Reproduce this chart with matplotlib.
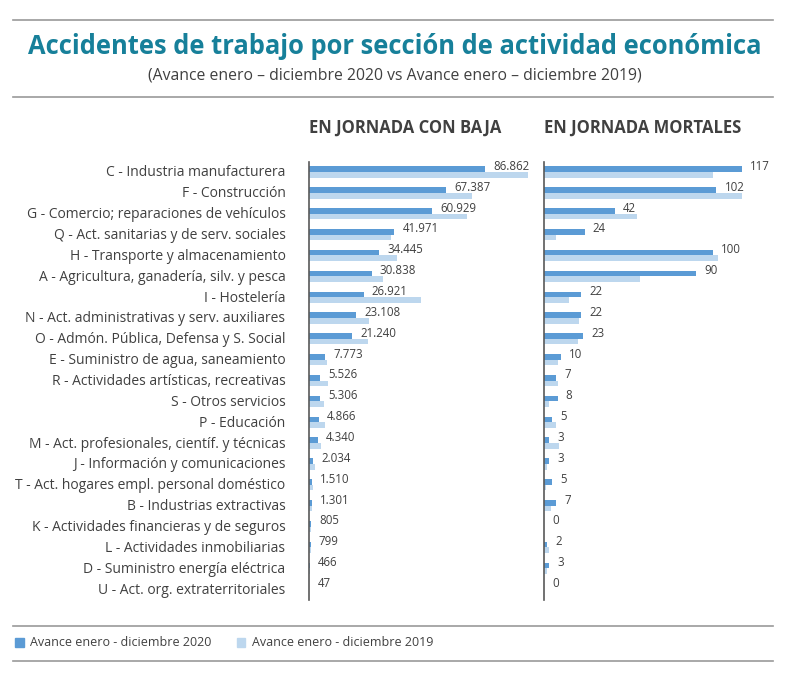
import numpy as np
import matplotlib
matplotlib.use("Agg")
import matplotlib.pyplot as plt
from matplotlib.patches import Patch

plt.rcParams['font.family'] = ['Open Sans', 'DejaVu Sans']

categorias = [
    "C - Industria manufacturera",
    "F - Construcción",
    "G - Comercio; reparaciones de vehículos",
    "Q - Act. sanitarias y de serv. sociales",
    "H - Transporte y almacenamiento",
    "A - Agricultura, ganadería, silv. y pesca",
    "I - Hostelería",
    "N - Act. administrativas y serv. auxiliares",
    "O - Admón. Pública, Defensa y S. Social",
    "E - Suministro de agua, saneamiento",
    "R - Actividades artísticas, recreativas",
    "S - Otros servicios",
    "P - Educación",
    "M - Act. profesionales, científ. y técnicas",
    "J - Información y comunicaciones",
    "T - Act. hogares empl. personal doméstico",
    "B - Industrias extractivas",
    "K - Actividades financieras y de seguros",
    "L - Actividades inmobiliarias",
    "D - Suministro energía eléctrica",
    "U - Act. org. extraterritoriales",
]

# en jornada con baja
baja_2020 = [86862, 67387, 60929, 41971, 34445, 30838, 26921, 23108, 21240, 7773,
             5526, 5306, 4866, 4340, 2034, 1510, 1301, 805, 799, 466, 47]
baja_2019 = [107900, 80300, 77800, 40600, 43400, 36400, 55100, 29600, 29100, 9000,
             9400, 7400, 7900, 5900, 3000, 2000, 1600, 1100, 1100, 500, 50]

# en jornada mortales
mort_2020 = [117, 102, 42, 24, 100, 90, 22, 22, 23, 10, 7, 8, 5, 3, 3, 5, 7, 0, 2, 3, 0]
mort_2019 = [100, 117, 55, 7, 103, 57, 15, 21, 20, 8, 8, 3, 7, 9, 2, 1, 4, 0, 3, 2, 0]

c2020 = "#5B9BD5"
c2019 = "#BDD7EE"
gris = "#404040"


def fmt(v):
    return f"{v:,}".replace(",", ".")


fig = plt.figure(figsize=(7.9, 6.83), dpi=100)

W, H = 790, 683
ax_bottom = 1 - 599.5 / H
ax_h = 437.9 / H
ax1 = fig.add_axes([309 / W, ax_bottom, 226 / W, ax_h])
ax2 = fig.add_axes([544 / W, ax_bottom, 231 / W, ax_h])

y = np.arange(len(categorias))
h = 0.27

for ax, v20, v19, xmax in [(ax1, baja_2020, baja_2019, 111500), (ax2, mort_2020, mort_2019, 136.7)]:
    ax.barh(y - h / 2, v20, height=h, color=c2020)
    ax.barh(y + h / 2, v19, height=h, color=c2019)
    for yi, v in zip(y, v20):
        ax.annotate(fmt(v), (v, yi - h / 2), xytext=(6, 2), textcoords="offset points",
                    va="center", ha="left", fontsize=8.3, color=gris)
    ax.set_xlim(0, xmax)
    ax.set_ylim(len(categorias) - 0.5, -0.5)
    ax.set_xticks([])
    for s in ["top", "right", "bottom"]:
        ax.spines[s].set_visible(False)
    ax.spines["left"].set_color("#595959")
    ax.spines["left"].set_linewidth(1.2)
    ax.tick_params(axis="y", length=0)

ax1.set_yticks(y - 0.05)
ax1.set_yticklabels(categorias, fontsize=10, color=gris)
ax1.tick_params(axis="y", pad=17)
ax2.set_yticks([])

fig.text(309 / W, 1 - 128 / H, "EN JORNADA CON BAJA", fontsize=12, fontweight="bold",
         color=gris, va="center", ha="left")
fig.text(544 / W, 1 - 128 / H, "EN JORNADA MORTALES", fontsize=12, fontweight="bold",
         color=gris, va="center", ha="left")

fig.text(0.5, 1 - 47 / H, "Accidentes de trabajo por sección de actividad económica",
         fontsize=18.4, fontweight="bold", color="#17809A", ha="center", va="center")
fig.text(0.5, 1 - 76 / H, "(Avance enero – diciembre 2020 vs Avance enero – diciembre 2019)",
         fontsize=11.3, color=gris, ha="center", va="center")

for yy in [20, 97, 626, 661]:
    fig.add_artist(plt.Line2D([13 / W, 773 / W], [1 - yy / H, 1 - yy / H],
                              color="#999999", linewidth=1.2))

handles = [Patch(color=c2020), Patch(color=c2019)]
fig.legend(handles, ["Avance enero - diciembre 2020", "Avance enero - diciembre 2019"],
           loc="center left", bbox_to_anchor=(4 / W, 1 - 643 / H), ncol=2, frameon=False,
           handlelength=0.7, handleheight=0.7, handletextpad=0.5, columnspacing=2.0,
           fontsize=9, labelcolor=gris)

fig.savefig("out.png", dpi=100, facecolor="white")
